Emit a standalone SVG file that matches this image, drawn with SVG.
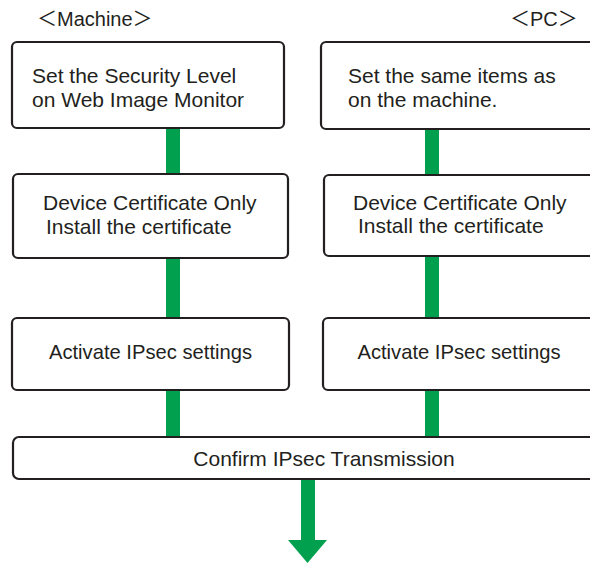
<svg xmlns="http://www.w3.org/2000/svg" width="590" height="563" viewBox="0 0 590 563">
<style>
.box{fill:#fff;stroke:#231f20;stroke-width:2.2}
.t{font-family:"Liberation Sans",Arial,sans-serif;font-size:21px;fill:#231f20}
.s{font-size:20.2px}
.c{text-anchor:middle}
.lbl{font-family:"Liberation Sans","Noto Sans CJK JP",sans-serif;font-size:20px;fill:#231f20}
.bar{fill:#00a04e}
</style>
<rect width="590" height="563" fill="#fff"/>
<g id="connectors">
<rect class="bar" x="166" y="126" width="14" height="50"/>
<rect class="bar" x="166" y="256" width="14" height="64"/>
<rect class="bar" x="166" y="388" width="14" height="51"/>
<rect class="bar" x="425" y="127" width="14" height="50"/>
<rect class="bar" x="425" y="254" width="14" height="66"/>
<rect class="bar" x="425" y="388" width="14" height="51"/>
<rect class="bar" x="301" y="477" width="14" height="64"/>
<polygon class="bar" points="288,540 327,540 307.5,563"/>
</g>
<g id="label-machine"><text class="lbl" x="37" y="26">＜Machine＞</text></g>
<g id="label-pc"><text class="lbl" x="510" y="26">＜PC＞</text></g>
<g id="m1">
<rect class="box" x="12" y="42" width="272" height="86" rx="5"/>
<text class="t" x="32" y="83">Set the Security Level</text>
<text class="t" x="32" y="107">on Web Image Monitor</text>
</g>
<g id="p1">
<rect class="box" x="321" y="42" width="280" height="87" rx="5"/>
<text class="t" x="348" y="83">Set the same items as</text>
<text class="t" x="348" y="107">on the machine.</text>
</g>
<g id="m2">
<rect class="box" x="13" y="174" width="275" height="84" rx="5"/>
<text class="t" x="43" y="210">Device Certificate Only</text>
<text class="t" x="46" y="234">Install the certificate</text>
</g>
<g id="p2">
<rect class="box" x="324" y="175" width="277" height="81" rx="5"/>
<text class="t" x="353" y="210">Device Certificate Only</text>
<text class="t" x="358" y="233">Install the certificate</text>
</g>
<g id="m3">
<rect class="box" x="12" y="318" width="277" height="72" rx="5"/>
<text class="t s c" x="150.5" y="359">Activate IPsec settings</text>
</g>
<g id="p3">
<rect class="box" x="323" y="318" width="278" height="72" rx="5"/>
<text class="t s c" x="459" y="359">Activate IPsec settings</text>
</g>
<g id="confirm">
<rect class="box" x="13" y="437" width="620" height="42" rx="6"/>
<text class="t c" x="324" y="466">Confirm IPsec Transmission</text>
</g>
</svg>
